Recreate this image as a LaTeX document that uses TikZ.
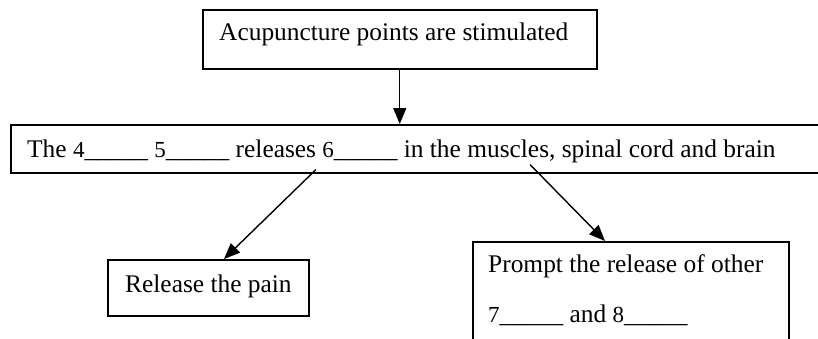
\documentclass[tikz,border=0pt]{standalone}
\usepackage{fontspec}
\setmainfont{Liberation Serif}
\usepackage{tikz}
\usetikzlibrary{calc,arrows.meta}

\newcommand{\blank}[1]{{\fontsize{23}{27}\selectfont #1}\_\_\_\_\_}

\begin{document}
\begin{tikzpicture}[x=1pt,y=-1pt,font=\fontsize{25.4}{30}\selectfont,
    box/.style={draw,line width=1.5pt,inner sep=0pt,anchor=north west},
    txt/.style={anchor=base west,inner sep=0pt},
    arr/.style={-{Triangle[length=16pt,width=13pt]},line width=1.4pt}]
	\clip (0,0) rectangle (818,338);
	\node[box,minimum width=394pt,minimum height=59pt] (stim) at (202,9) {};
	\node[box,minimum width=840pt,minimum height=48pt] (mid) at (10,124) {};
	\node[box,minimum width=201pt,minimum height=56pt] (pain) at (107,259) {};
	\node[box,minimum width=316pt,minimum height=130pt] (prompt) at (472,241) {};
	\node[txt] (stimtxt) at (219,40) {Acupuncture points are stimulated};
	\node[txt] (midtxt) at (27,157) {The \blank{4} \blank{5} releases \blank{6} in the muscles, spinal cord and brain};
	\node[txt] (paintxt) at (125,292) {Release the pain};
	\node[txt] (prompttxt) at (488,272) {Prompt the release of other};
	\node[txt] (prompttxtb) at (488,322) {\blank{7} and \blank{8}};
	% arrows
	\coordinate (from6) at ($(mid.south west)+(306,-4)$);
	\coordinate (frommus) at ($(mid.south west)+(520,-9)$);
	\coordinate (topain) at ($(pain.north west)+(117,0)$);
	\coordinate (toprompt) at ($(prompt.north west)+(133,0)$);
	\draw[arr] (stim.south) -- (stim.south |- mid.north);
	\draw[arr] (from6) -- (topain);
	\draw[arr] (frommus) -- (toprompt);
\end{tikzpicture}
\end{document}
